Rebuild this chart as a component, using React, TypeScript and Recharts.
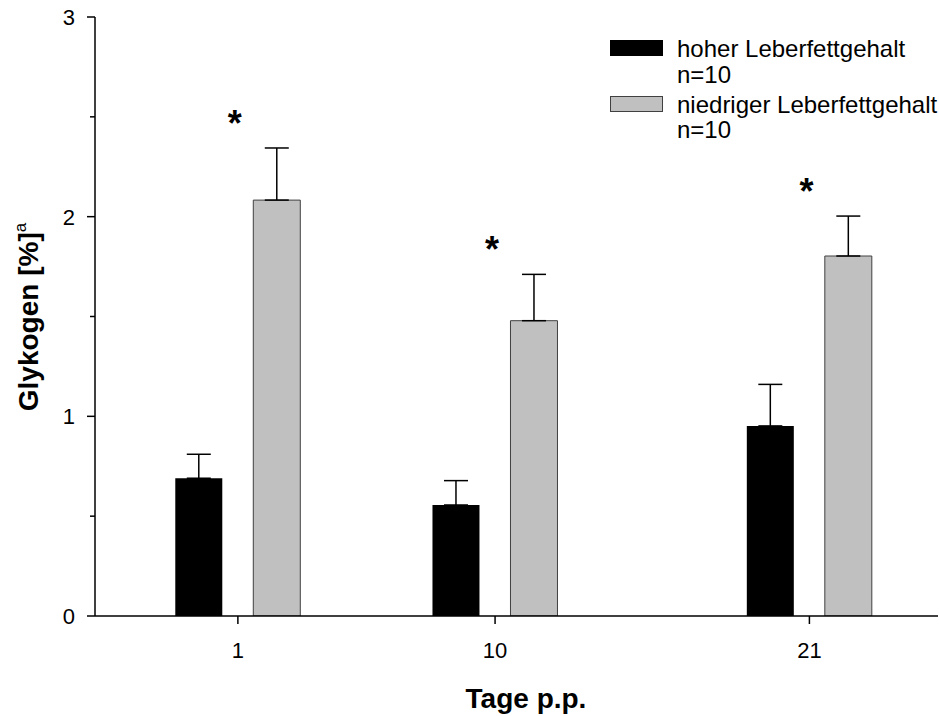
import {
  ComposedChart,
  Bar,
  Line,
  XAxis,
  YAxis,
  ErrorBar,
  Legend,
} from 'recharts';

const days = [1, 10, 21];
const highFat = [0.69, 0.556, 0.952];
const highFatErr = [0.12, 0.122, 0.208];
const lowFat = [2.083, 1.479, 1.803];
const lowFatErr = [0.261, 0.232, 0.2];
const sigY = [2.49, 1.86, 2.15];
const yTicks = [0, 0.5, 1, 1.5, 2, 2.5, 3];
const xTicks = [1, 10, 21];

const data = days.map((d, i) => ({
  day: d,
  high: highFat[i],
  highErr: [0, highFatErr[i]],
  low: lowFat[i],
  lowErr: [0, lowFatErr[i]],
  sig: sigY[i],
}));

const font = '"Liberation Sans", Arial, sans-serif';

const YTick = (props: any) => {
  const { x, y, payload } = props;
  const axisX = x + 12 + 8;
  const major = Number.isInteger(payload.value);
  return (
    <g>
      <line x1={axisX - (major ? 8 : 5)} x2={axisX} y1={y} y2={y} stroke="#000" strokeWidth={1.5} />
      {major && (
        <text x={x} y={y + 8} textAnchor="end" fontSize={22} fontFamily={font} fill="#000">
          {payload.value}
        </text>
      )}
    </g>
  );
};

const XTick = (props: any) => {
  const { x, y, payload } = props;
  return (
    <g>
      <line x1={x} x2={x} y1={y - 8} y2={y} stroke="#000" strokeWidth={1.5} />
      <text x={x} y={y + 34} textAnchor="middle" fontSize={22} fontFamily={font} fill="#000">
        {payload.value}
      </text>
    </g>
  );
};

// asterisks marking significant differences
const Star = (props: any) => {
  const { cx, cy, index } = props;
  return (
    <text key={`star-${index}`} x={cx - 3} y={cy + 17} textAnchor="middle" fontSize={36} fontWeight="bold" fontFamily={font} fill="#000">
      *
    </text>
  );
};

const LegendBox = () => (
  <svg width={339} height={115} style={{ display: 'block' }}>
    <rect x={10} y={10} width={53} height={16} fill="#000" />
    <text x={77} y={27} fontSize={24} fontFamily={font} fill="#000">hoher Leberfettgehalt</text>
    <text x={77} y={53} fontSize={24} fontFamily={font} fill="#000">n=10</text>
    <rect x={10.5} y={66.5} width={52} height={15} fill="#c0c0c0" stroke="#404040" strokeWidth={1} />
    <text x={77} y={83} fontSize={24} fontFamily={font} fill="#000">niedriger Leberfettgehalt</text>
    <text x={77} y={108} fontSize={24} fontFamily={font} fill="#000">n=10</text>
  </svg>
);

export default function App() {
  return (
    <div style={{ position: 'absolute', left: 0, top: 0, background: '#fff' }}>
      <ComposedChart
        width={939}
        height={716}
        data={data}
        margin={{ top: 17, right: 1, bottom: 0, left: 0 }}
        barGap={31}
      >
        <XAxis
          dataKey="day"
          type="number"
          domain={[-4, 25.5]}
          ticks={xTicks}
          allowDataOverflow
          height={100}
          tickSize={8}
          tickMargin={0}
          tickLine={false}
          tick={<XTick />}
          axisLine={{ stroke: '#000', strokeWidth: 1.5 }}
          label={() => (
            <text x={526} y={708} textAnchor="middle" fontSize={28} fontWeight="bold" fontFamily={font} fill="#000">
              Tage p.p.
            </text>
          )}
        />
        <YAxis
          type="number"
          domain={[0, 3]}
          ticks={yTicks}
          allowDataOverflow
          width={95}
          tickSize={8}
          tickMargin={12}
          tickLine={false}
          tick={<YTick />}
          interval={0}
          axisLine={{ stroke: '#000', strokeWidth: 1.5 }}
          label={() => (
            <text
              x={38}
              y={317}
              transform="rotate(-90, 38, 317)"
              textAnchor="middle"
              fontSize={28}
              fontWeight="bold"
              fontFamily={font}
              fill="#000"
            >
              Glykogen [%]
              <tspan fontSize={17} dy={-12} fontWeight="normal">a</tspan>
            </text>
          )}
        />
        <Legend
          layout="vertical"
          align="center"
          verticalAlign="middle"
          wrapperStyle={{ left: 600, top: 30, width: 339, height: 115 }}
          content={() => <LegendBox />}
        />
        <Bar dataKey="high" fill="#000" barSize={47} isAnimationActive={false}>
          <ErrorBar dataKey="highErr" width={12} stroke="#000" strokeWidth={1.5} direction="y" />
        </Bar>
        <Bar dataKey="low" fill="#c0c0c0" stroke="#404040" strokeWidth={1} barSize={47} isAnimationActive={false}>
          <ErrorBar dataKey="lowErr" width={12} stroke="#000" strokeWidth={1.5} direction="y" />
        </Bar>
        <Line
          dataKey="sig"
          stroke="none"
          dot={Star}
          activeDot={false}
          legendType="none"
          isAnimationActive={false}
        />
      </ComposedChart>
    </div>
  );
}
